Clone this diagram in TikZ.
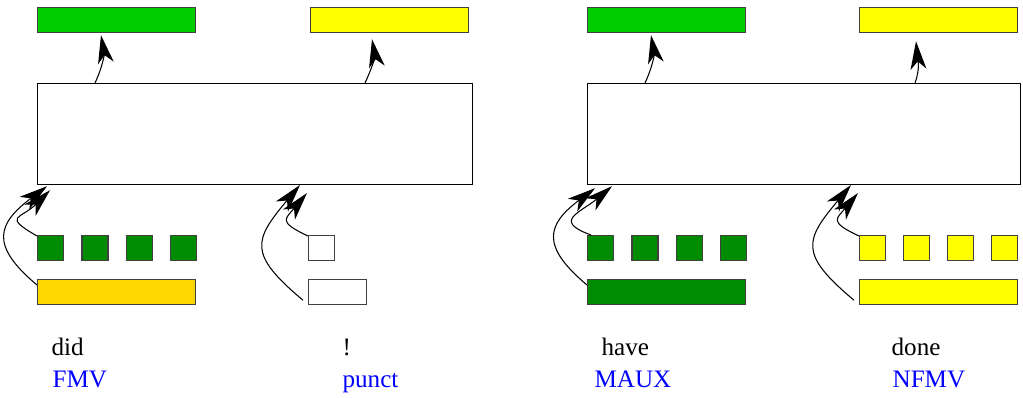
\documentclass[tikz,border=0pt]{standalone}
\usepackage{fontspec}
\setmainfont{Liberation Serif}
\usetikzlibrary{arrows.meta,calc}

\definecolor{figgreen}{RGB}{0,205,0}
\definecolor{figdkgreen}{RGB}{0,140,0}
\definecolor{figgold}{RGB}{255,215,0}
\definecolor{figyellow}{RGB}{255,255,0}

\tikzset{
	bar/.style={draw=black!75, minimum width=3.16cm, minimum height=0.5cm, inner sep=0pt, anchor=north west},
	sq/.style={draw=black!75, minimum width=0.52cm, minimum height=0.5cm, inner sep=0pt, anchor=north west},
	bigbox/.style={draw, minimum width=8.7cm, minimum height=2.02cm, inner sep=0pt, anchor=north west},
	word/.style={anchor=base west, inner sep=0pt, font=\fontsize{14.3}{17}\selectfont},
	tag/.style={word, text=blue},
	arr/.style={-{Stealth[length=16pt,width=9pt,inset=4.5pt]}, line width=0.6pt}
}

\begin{document}
\begin{tikzpicture}[x=0.02cm, y=0.02cm, line width=0.7pt]
		\useasboundingbox (0,0) rectangle (1023,397);

		% did ... !
		\node[bar, fill=figgreen] (fmvout) at (37,390) {};
		\node[bar, fill=figyellow] (punctout) at (310,390) {};
		\node[bigbox] (leftbox) at (37,314) {};
		\foreach \i in {0,...,3}
			\node[sq, fill=figdkgreen] (fmvsq\i) at (37+44.3*\i,162) {};
		\node[bar, fill=figgold] (fmvin) at (37,118) {};
		\node[sq] (punctsq) at (308,162) {};
		\node[sq, minimum width=1.16cm] (punctin) at (308,118) {};

		\node[word] (did) at (51,42) {did};
		\node[tag] (fmv) at (52,10) {FMV};
		\node[word] (bang) at (342,42) {!};
		\node[tag] (punct) at (342,10) {punct};

		\draw[arr] ($(leftbox.north west)+(58,0)$) to[out=65,in=-80] ($(fmvout.south west)+(64,-2)$);
		\draw[arr] ($(leftbox.north west)+(328,0)$) to[out=65,in=-80] ($(punctout.south west)+(62,-6)$);
		\draw[arr] ($(fmvin.north west)+(0,-6)$) to[out=140,in=217,looseness=1.6] ($(leftbox.south west)+(10,-1)$);
		\draw[arr] ($(fmvsq0.north west)+(0,-1)$) to[out=150,in=225,looseness=2.2] ($(leftbox.south west)+(13,-5)$);
		\draw[arr] ($(punctin.south west)+(-5,5)$) to[out=140,in=230,looseness=1.6] ($(punctsq.north west)+(-8,50)$);
		\draw[arr] ($(punctsq.north west)+(0,-1)$) to[out=155,in=230,looseness=2] ($(punctsq.north west)+(-1,42)$);

		% have ... done
		\node[bar, fill=figgreen] (mauxout) at (587,390) {};
		\node[bar, fill=figyellow] (nfmvout) at (859,390) {};
		\node[bigbox, minimum width=8.66cm] (rightbox) at (587,314) {};
		\foreach \i in {0,...,3}
			\node[sq, fill=figdkgreen] (mauxsq\i) at (587+44.3*\i,162) {};
		\node[bar, fill=figdkgreen] (mauxin) at (587,118) {};
		\foreach \i in {0,...,3}
			\node[sq, fill=figyellow] (nfmvsq\i) at (859+44*\i,162) {};
		\node[bar, fill=figyellow] (nfmvin) at (859,118) {};

		\node[word] (have) at (601,42) {have};
		\node[tag] (maux) at (594,10) {MAUX};
		\node[word] (done) at (891,42) {done};
		\node[tag] (nfmv) at (892,10) {NFMV};

		\draw[arr] ($(rightbox.north west)+(58,0)$) to[out=65,in=-80] ($(mauxout.south west)+(64,-2)$);
		\draw[arr] ($(rightbox.north west)+(328,0)$) to[out=70,in=-85] ($(nfmvout.south west)+(57,-8)$);
		\draw[arr] ($(mauxin.north west)+(0,-6)$) to[out=140,in=217,looseness=1.6] ($(rightbox.south west)+(8,-3)$);
		\draw[arr] ($(mauxsq0.north west)+(4,0)$) to[out=160,in=220,looseness=2] ($(rightbox.south west)+(25,-1)$);
		\draw[arr] ($(nfmvin.south west)+(-5,5)$) to[out=140,in=230,looseness=1.6] ($(nfmvsq0.north west)+(-8,50)$);
		\draw[arr] ($(nfmvsq0.north west)+(0,-1)$) to[out=155,in=230,looseness=2] ($(nfmvsq0.north west)+(-1,42)$);
\end{tikzpicture}
\end{document}
